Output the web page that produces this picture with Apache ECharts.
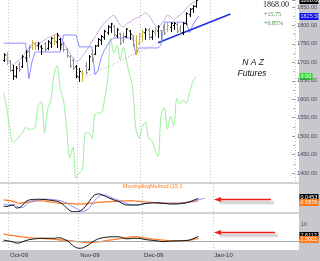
<!DOCTYPE html>
<html>
<head>
<meta charset="utf-8">
<script src="https://cdn.jsdelivr.net/npm/echarts@6.0.0/dist/echarts.min.js"></script>
<style>
html,body{margin:0;padding:0;background:#fff;overflow:hidden}
#chart{width:320px;height:261px}
</style>
</head>
<body>
<div id="chart"></div>
<script>
// ---------------- data ----------------
const firstDay = [2009, 8, 29];               // 29 Sep 2009
const dayCount = 93;
const holidays = ['2009-11-26', '2009-12-25', '2010-01-01', '2010-01-18'];
const monthLabels = ['Oct-09', 'Nov-09', 'Dec-09', 'Jan-10'];
const priceTicks = [1400, 1450, 1500, 1550, 1600, 1650, 1700, 1750, 1800, 1850];

const barOpen = [1705,1720,1704,1678,1662,1695,1688,1712,1730,1742,
  1750,1745,1742,1750,1738,1752,1765,1755,1762,1750,
  1735,1716,1705,1688,1660,1672,1690,1680,1722,1722,
  1745,1760,1768,1780,1795,1798,1772,1778,1760,1770,
  1785,1772,1760,1750,1770,1780,1788,1768,1780,1785,
  1786,1796,1790,1795,1800,1802,1790,1780,1806,1830,
  1845,1852];
const barHigh = [1725,1728,1706,1693,1690,1701,1720,1733,1747,1760,
  1755,1755,1747,1755,1760,1769,1774,1780,1766,1755,
  1739,1720,1712,1693,1685,1679,1701,1720,1733,1747,
  1766,1774,1788,1801,1807,1801,1793,1780,1780,1793,
  1788,1774,1774,1780,1788,1793,1793,1788,1796,1801,
  1788,1804,1809,1809,1809,1807,1801,1809,1836,1847,
  1855,1870];
const barLow = [1701,1693,1674,1652,1657,1674,1685,1701,1712,1733,
  1733,1733,1720,1728,1733,1739,1747,1739,1733,1728,
  1712,1685,1679,1657,1647,1647,1666,1679,1701,1720,
  1742,1747,1761,1774,1780,1769,1766,1747,1752,1766,
  1761,1742,1720,1747,1755,1761,1761,1761,1769,1766,
  1755,1774,1782,1782,1788,1779,1774,1774,1801,1823,
  1834,1848];
const barClose = [1720,1712,1678,1663,1684,1680,1715,1728,1740,1752,
  1745,1750,1738,1735,1756,1765,1758,1772,1748,1735,
  1718,1690,1684,1662,1675,1668,1672,1715,1710,1744,
  1762,1770,1784,1796,1804,1775,1788,1752,1770,1790,
  1776,1746,1740,1775,1782,1788,1768,1784,1790,1796,
  1760,1780,1800,1805,1805,1785,1780,1805,1832,1844,
  1852,1868];
// b = trend bar, g = counter bar, y = neutral bar
const barSignal = ['b','y','g','b','b','g','b','b','g','y',
  'y','b','b','g','b','b','y','b','b','g',
  'g','g','g','b','b','y','g','b','g','b',
  'b','b','b','b','b','g','b','g','g','b',
  'b','g','y','y','y','b','g','b','y','b',
  'g','g','y','b','b','g','g','b','b','b',
  'b','b'];

const stopLine = [1752,1752,1752,1752,1752,1752,1752,1752,1655,1701,
  1728,1728,1728,1728,1728,1728,1728,1728,1728,1774,
  1774,1774,1774,1774,1742,1742,1742,1742,1742,1666,
  1679,1714,1733,1747,1761,1766,1766,1766,1766,1766,
  1766,1766,1720,1739,1739,1739,1739,1739,1739,1739,
  1747,1809,1809,1809,1809,1809,1809,1809,1809,1780,
  1800,1815,1825.5];
const upperBand = [1712,1706,1698,1693,1701,1706,1717,1728,1739,1750,
  1752,1752,1755,1761,1766,1771,1774,1777,1769,1755,
  1739,1725,1712,1701,1706,1717,1728,1742,1755,1769,
  1782,1796,1807,1815,1823,1828,1815,1801,1796,1804,
  1809,1815,1820,1823,1828,1834,1828,1815,1801,1796,
  1804,1815,1828,1823,1815,1823,1828,1836,1847,1855,
  1861,1864];
const momentum = [49,41,29,22,23,25,27,30,29,29,
  30,42,44,27,40,45,59,64,51,45,
  30,13,19,2,5,7,27,27,24,37,
  38,38,45,56,79,71,75,67,74,66,
  59,51,29,24,30,33,24,23,18,14,
  37,41,29,36,31,46,43,45,43,49,
  55,58];
const momentumReadout = '3.50';
const trendSupport = [[24, 1652], [49, 1753]];
const trendBreak = [[49, 1753], [72, 1831]];

const osc1Avg = [-0.13,-0.16,-0.19,-0.25,-0.31,-0.38,-0.34,-0.31,-0.28,-0.25,
  -0.21,-0.2,-0.21,-0.23,-0.26,-0.29,-0.32,-0.36,-0.38,-0.38,
  -0.38,-0.38,-0.41,-0.44,-0.44,-0.42,-0.4,-0.38,-0.36,-0.33,
  -0.31,-0.29,-0.28,-0.26,-0.25,-0.24,-0.22,-0.21,-0.21,-0.2,
  -0.19,-0.21,-0.23,-0.25,-0.27,-0.29,-0.31,-0.33,-0.36,-0.38,
  -0.37,-0.36,-0.36,-0.36,-0.36,-0.36,-0.34,-0.32,-0.3,-0.27,
  -0.24,-0.21];
const osc1Main = [-0.59,-0.61,-0.54,-0.52,-0.71,-0.68,-0.5,-0.25,-0.14,-0.11,
  -0.09,-0.09,-0.09,-0.11,-0.14,-0.17,-0.2,-0.25,-0.36,-0.54,
  -0.77,-0.93,-0.98,-0.98,-0.93,-0.75,-0.5,-0.18,0.11,0.27,
  0.29,0.21,0.11,0,-0.09,-0.18,-0.25,-0.36,-0.48,-0.5,
  -0.5,-0.5,-0.5,-0.46,-0.41,-0.38,-0.36,-0.34,-0.34,-0.36,
  -0.38,-0.4,-0.43,-0.43,-0.43,-0.41,-0.39,-0.36,-0.29,-0.21,
  -0.11,-0.04];
const osc1Signal = [-0.41,-0.49,-0.49,-0.46,-0.54,-0.68,-0.68,-0.46,-0.3,-0.21,
  -0.18,-0.15,-0.11,-0.09,-0.09,-0.1,-0.12,-0.16,-0.21,-0.29,
  -0.39,-0.52,-0.66,-0.79,-0.93,-0.96,-0.86,-0.68,-0.34,-0.07,
  0.14,0.21,0.21,0.11,0,-0.09,-0.16,-0.25,-0.34,-0.43,
  -0.5,-0.5,-0.5,-0.45,-0.39,-0.37,-0.35,-0.34,-0.34,-0.34,
  -0.36,-0.38,-0.39,-0.39,-0.39,-0.38,-0.36,-0.32,-0.29,-0.24,
  -0.18,-0.12,-0.07,-0.02];
const osc1Readouts = ['0.0453', '0.5976'];
const osc1Title = 'MovingAvgMethod (15,1';

const osc2Avg = [4.1,3.8,3.4,3.2,2.9,2.6,2.4,2.2,2.0,1.8,
  1.7,1.6,1.5,1.4,1.2,1.1,1.0,0.8,0.6,0.5,
  0.4,0.1,-0.1,-0.4,-0.5,-0.7,-0.9,-1.0,-0.8,-0.6,
  -0.4,-0.2,0.2,0.5,0.7,1.0,1.3,1.6,1.9,2.2,
  2.4,2.5,2.4,2.1,1.8,1.5,1.2,1.1,0.9,0.7,
  0.5,0.3,0.1,0,0,0,0.1,0.2,0.4,0.7,
  1.1,1.6];
const osc2Main = [0.5,0.2,-0.1,-0.6,-1.2,-1.1,-0.4,0.3,0.8,1.1,
  1.3,1.5,1.6,1.6,1.6,1.6,1.6,1.9,1.8,0.9,
  0.1,-1.5,-3.1,-4.1,-4.3,-3.9,-2.9,-1.8,-0.3,0.7,
  1.5,1.9,2.2,2.4,2.5,2.5,2.5,2.1,1.4,1.3,
  1.5,1.6,1.6,1.4,1.0,0.7,0.5,0.3,0.1,-0.2,
  -0.4,-0.2,-0.1,0,0.1,0.1,0.2,0.3,0.5,1.1,
  1.9,2.6];
const osc2Readouts = ['2.6112', '1.0001'];
const osc2Ticks = [10];

const lastClose = 1868.00, netChange = '+15.75', pctChange = '+0.85%';
const titleLines = ['N A Z', 'Futures'];

// ---------------- build ----------------
const MONTHS = ['Jan','Feb','Mar','Apr','May','Jun','Jul','Aug','Sep','Oct','Nov','Dec'];
const categories = [];
(function () {
  const d = new Date(Date.UTC(firstDay[0], firstDay[1], firstDay[2]));
  while (categories.length < dayCount) {
    const s = d.toISOString().slice(0, 10);
    const wd = d.getUTCDay();
    if (wd !== 0 && wd !== 6 && holidays.indexOf(s) < 0) categories.push(s);
    d.setUTCDate(d.getUTCDate() + 1);
  }
})();
function monthLabel(i) {
  const s = categories[i], p = categories[i - 1];
  if (!p || p.slice(0, 7) === s.slice(0, 7)) return '';
  const lab = MONTHS[+s.slice(5, 7) - 1] + '-' + s.slice(2, 4);
  return monthLabels.indexOf(lab) >= 0 ? lab : '';
}
const isMonthStart = (i) => monthLabel(i) !== '';

const colorOf = { b: '#000000', g: '#8c8c8c', y: '#c8b13a' };
const ohlc = barOpen.map((o, i) => [i, o, barHigh[i], barLow[i], barClose[i]]);

const FONT = 'Liberation Sans';
const GRID_L = 2, GRID_R = 21;
function xAxisFor(g, labels) {
  return {
    type: 'category', gridIndex: g, data: categories, boundaryGap: true,
    axisLine: { show: false }, axisTick: { show: false, interval: (i) => isMonthStart(i) },
    splitLine: { show: true, interval: (i) => isMonthStart(i),
      lineStyle: { color: '#c4c4c4', type: [1, 2], width: 1 } },
    axisLabel: { show: labels, interval: (i) => isMonthStart(i), formatter: (v, i) => monthLabel(i),
      align: 'left', margin: 3, fontSize: 6, color: '#333', fontFamily: FONT }
  };
}
function lineSeries(data, x, y, color, w, z) {
  return { type: 'line', xAxisIndex: x, yAxisIndex: y, data: data, symbol: 'none', smooth: 0.3,
    lineStyle: { color: color, width: w }, z: z || 3, silent: true, animation: false };
}

const option = {
  animation: false,
  backgroundColor: '#ffffff',
  grid: [
    { left: GRID_L, right: GRID_R, top: 0, height: 182 },
    { left: GRID_L, right: GRID_R, top: 184, height: 28 },
    { left: GRID_L, right: GRID_R, top: 214, height: 35 }
  ],
  xAxis: [xAxisFor(0, false), xAxisFor(1, false), xAxisFor(2, true)],
  yAxis: [
    { type: 'value', gridIndex: 0, position: 'right', min: 1375.6, max: 1869, splitNumber: 10, scale: true,
      axisLine: { show: false }, splitLine: { show: false },
      axisTick: { show: true, inside: true, length: 3, lineStyle: { color: '#999' } },
      minorTick: { show: true, splitNumber: 2, length: 2, lineStyle: { color: '#aaa' } },
      axisLabel: { margin: 2, fontSize: 5.5, color: '#4a4a5a', fontFamily: FONT,
        formatter: (v) => priceTicks.indexOf(Math.round(v * 100) / 100) >= 0 ? v.toFixed(2) : '' } },
    { type: 'value', gridIndex: 0, min: 0, max: 100, show: false },
    { type: 'value', gridIndex: 1, min: -1, max: 1, show: false },
    { type: 'value', gridIndex: 2, position: 'right', min: -4.7, max: 15.9, splitNumber: 2,
      axisLine: { show: false }, splitLine: { show: false },
      axisTick: { show: false },
      axisLabel: { margin: 2, fontSize: 5.5, color: '#4a4a5a', fontFamily: FONT,
        formatter: (v) => osc2Ticks.indexOf(v) >= 0 ? String(v) : '' } }
  ],
  series: [
    lineSeries(momentum, 0, 1, '#9bef9b', 1, 2),
    lineSeries(upperBand, 0, 0, '#d4a6e6', 1, 3),
    { type: 'line', xAxisIndex: 0, yAxisIndex: 0, data: stopLine, symbol: 'none',
      lineStyle: { color: '#8c8cff', width: 1 }, z: 3, silent: true },
    { type: 'line', xAxisIndex: 0, yAxisIndex: 0, data: trendSupport, symbol: 'none',
      lineStyle: { color: '#b0b0b0', width: 1, type: [1, 2] }, z: 3, silent: true },
    { type: 'line', xAxisIndex: 0, yAxisIndex: 0, data: trendBreak, symbol: 'none',
      lineStyle: { color: '#1f2fe0', width: 1.5 }, z: 3, silent: true },
    { type: 'custom', xAxisIndex: 0, yAxisIndex: 0, data: ohlc, z: 5, silent: true,
      encode: { x: 0, y: [1, 2, 3, 4] },
      renderItem: function (params, api) {
        const i = api.value(0);
        const top = api.coord([i, api.value(2)]);
        const lo = api.coord([i, api.value(3)])[1];
        const op = api.coord([i, api.value(1)])[1];
        const cl = api.coord([i, api.value(4)])[1];
        const x = Math.round(top[0]) + 0.5;
        const c = colorOf[barSignal[i]];
        return { type: 'group', children: [
          { type: 'line', shape: { x1: x, y1: top[1], x2: x, y2: lo }, style: { stroke: c, lineWidth: 1 } },
          { type: 'line', shape: { x1: x - 1.5, y1: op, x2: x, y2: op }, style: { stroke: c, lineWidth: 1 } },
          { type: 'line', shape: { x1: x, y1: cl, x2: x + 1.5, y2: cl }, style: { stroke: c, lineWidth: 1 } }
        ] };
      } },
    lineSeries(osc1Avg, 1, 2, '#ff7f2a', 1.3, 3),
    lineSeries(osc1Signal, 1, 2, '#8c8cff', 1, 4),
    lineSeries(osc1Main, 1, 2, '#111111', 1, 5),
    Object.assign(lineSeries(osc2Avg, 2, 3, '#ff7f2a', 1.3, 4), {
      markLine: { silent: true, symbol: 'none', label: { show: false },
        lineStyle: { color: '#aaaaaa', type: 'solid', width: 1 }, data: [{ yAxis: 0 }] } }),
    lineSeries(osc2Main, 2, 3, '#111111', 1, 5)
  ]
};

const chart = echarts.init(document.getElementById('chart'), null, { renderer: 'canvas' });
chart.setOption(option);

// ---------------- decorations placed through the axes ----------------
const W = 320, H = 261;
const rightX = chart.getWidth() - GRID_R;
const py0 = (v) => chart.convertToPixel({ yAxisIndex: 0 }, v);
const pyG = (v) => chart.convertToPixel({ yAxisIndex: 1 }, v);
const py1 = (v) => chart.convertToPixel({ yAxisIndex: 2 }, v);
const py2 = (v) => chart.convertToPixel({ yAxisIndex: 3 }, v);
const bottomY = H - 11;

function box(y, fill, text, textColor, w) {
  return { type: 'group', z: 60, children: [
    { type: 'rect', shape: { x: rightX + 0.5, y: Math.round(y - 3.5), width: w || 19, height: 7 }, style: { fill: fill } },
    { type: 'text', x: rightX + 1.5, y: y, style: { text: text, fill: textColor, fontSize: 5.5,
      fontFamily: FONT, verticalAlign: 'middle', align: 'left' } }
  ] };
}
function arrow(y, x1, x2) {
  return { type: 'group', z: 60, children: [
    { type: 'line', shape: { x1: x1 + 6, y1: y + 3, x2: x2 + 3, y2: y + 3 },
      style: { stroke: '#d6d6d6', lineWidth: 2.5, shadowBlur: 2, shadowColor: '#ccc' } },
    { type: 'line', shape: { x1: x1 + 5, y1: y, x2: x2, y2: y }, style: { stroke: '#ee1c1c', lineWidth: 1.3 } },
    { type: 'polygon', shape: { points: [[x1, y], [x1 + 7, y - 2.5], [x1 + 7, y + 2.5]] }, style: { fill: '#ee1c1c' } }
  ] };
}

const graphics = [
  { type: 'rect', z: -10, shape: { x: rightX, y: 0, width: W - rightX, height: H }, style: { fill: '#c8c7ce' } },
  { type: 'rect', z: -10, shape: { x: 0, y: bottomY, width: W, height: H - bottomY }, style: { fill: '#c8c7ce' } },
  { type: 'rect', z: 50, shape: { x: 0, y: 182, width: rightX, height: 2 }, style: { fill: '#d2d2d2' } },
  { type: 'rect', z: 50, shape: { x: 0, y: 212, width: rightX, height: 2 }, style: { fill: '#d2d2d2' } },
  box(py0(lastClose), '#000000', lastClose.toFixed(2), '#ffffff'),
  box(py0(stopLine[stopLine.length - 1]), '#1010e8', stopLine[stopLine.length - 1].toFixed(2), '#d8d8ff'),
  box(pyG(momentum[momentum.length - 1]), '#2ee02e', momentumReadout, '#ffffff', 13),
  box(py1(osc1Main[osc1Main.length - 1]) - 1, '#000000', osc1Readouts[0], '#ffffff'),
  box(py1(osc1Avg[osc1Avg.length - 1]) + 2, '#ff7a1a', osc1Readouts[1], '#ffffff'),
  box(py2(osc2Main[osc2Main.length - 1]) - 1, '#000000', osc2Readouts[0], '#ffffff'),
  box(py2(osc2Avg[osc2Avg.length - 1]) + 1, '#ff7a1a', osc2Readouts[1], '#ffffff'),
  { type: 'text', z: 60, x: 263, y: 5, style: { text: lastClose.toFixed(2), fill: '#222', fontSize: 8,
    fontFamily: 'Liberation Serif', verticalAlign: 'middle' } },
  { type: 'text', z: 60, x: 264, y: 14, style: { text: netChange, fill: '#3b8b3b', fontSize: 6,
    fontFamily: 'Liberation Serif', verticalAlign: 'middle' } },
  { type: 'text', z: 60, x: 264, y: 23, style: { text: pctChange, fill: '#3b8b3b', fontSize: 6,
    fontFamily: 'Liberation Serif', verticalAlign: 'middle' } },
  { type: 'text', z: 60, x: 253, y: 63, style: { text: titleLines[0], fill: '#111', fontSize: 8.5,
    fontStyle: 'italic', fontFamily: FONT, align: 'center', verticalAlign: 'middle' } },
  { type: 'text', z: 60, x: 252, y: 74, style: { text: titleLines[1], fill: '#111', fontSize: 8.5,
    fontStyle: 'italic', fontFamily: FONT, align: 'center', verticalAlign: 'middle' } },
  { type: 'text', z: 60, x: 123, y: 186, style: { text: osc1Title, fill: '#ff7a1a', fontSize: 5.5,
    fontFamily: FONT, verticalAlign: 'middle' } },
  arrow(199.5, 214, 271),
  arrow(232.5, 214, 275)
];
chart.setOption({ graphic: graphics });
</script>
</body>
</html>
